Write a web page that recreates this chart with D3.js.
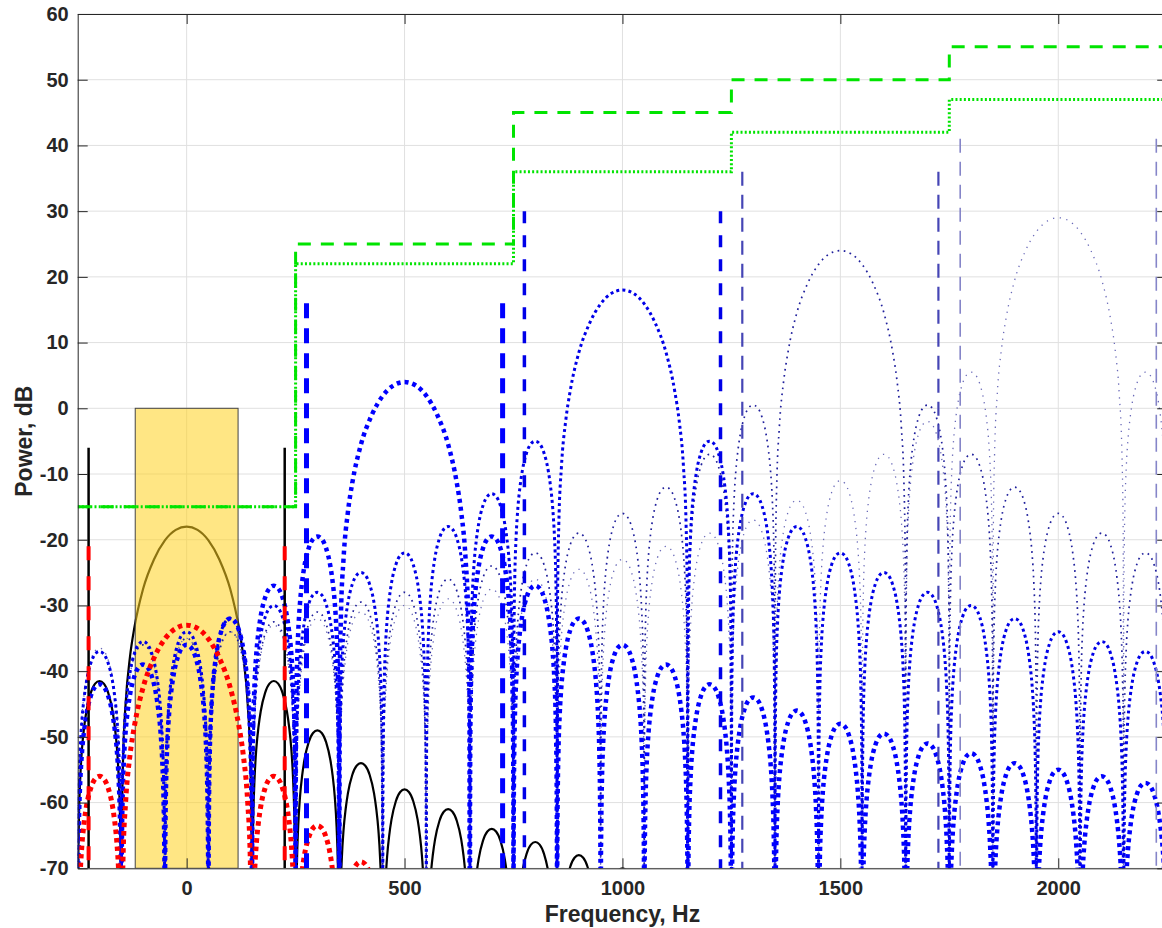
<!DOCTYPE html>
<html>
<head>
<meta charset="utf-8">
<script src="https://cdn.jsdelivr.net/npm/d3@7"></script>
<style>
  body { margin: 0; background: #fff; }
  svg { display: block; font-family: "Liberation Sans", Arial, sans-serif; }
</style>
</head>
<body>
<div id="chart"></div>
<script>
// tick labels
const xTicks = [0, 500, 1000, 1500, 2000];
const yTicks = [-70, -60, -50, -40, -30, -20, -10, 0, 10, 20, 30, 40, 50, 60];

// baseband spectra at 0 Hz: main lobe peak, then side lobe peaks at 200, 300, 400 ... Hz away
const blackPeak = -18;
const blackSide = [-41.5, -49, -54, -58, -61, -64, -66, -68, -70, -71.5];
const redPeak = -33;
const redSide = [-56, -63.5, -69, -73];

// shifted spectra (side lobes at 200, 300, 400 ... Hz from each centre)
const blueCenters = [500, 1000, 1500, 2000];
const bluePeaks = [4, 18, 24, 29];
const blueSide500 = [-19.5, -27, -32, -36, -39, -42, -44, -46, -48, -49.5, -51, -52.5, -54, -55, -56, -57];
const blueSide1000 = [-5, -13, -18, -22, -25, -28, -30, -32, -34, -35.5, -37, -38.5, -40];
const blueSide1500 = [0.5, -7, -12, -16, -19, -22, -24, -26, -28, -29.5, -31, -32.5, -34, -35, -36, -37];
const blueSide2000 = [5.5, -2, -7, -11, -14, -17, -19, -21, -23, -24.5, -26, -27.5, -29, -30, -31, -32, -33, -34, -35, -36, -36.5, -37.5];
const blueSides = [blueSide500, blueSide1000, blueSide1500, blueSide2000];

// vertical markers
const blackMarkers = [-225, 225];
const blackMarkerTop = -6;
const redMarkers = [-225, 225];
const redMarkerTop = -21;
const blueMarkers = [[275, 725], [775, 1225], [1275, 1725], [1775, 2225]];
const blueMarkerTops = [16, 30, 36, 41];

// masks (step limits)
const maskFreq = [-250, 250, 250, 750, 750, 1250, 1250, 1750, 1750, 2250];
const maskDashed = [-15, -15, 25, 25, 45, 45, 50, 50, 55, 55];
const maskDotted = [-15, -15, 22, 22, 36, 36, 42, 42, 47, 47];

// pass band
const band = [-118, 118];
const bandTop = 0;

// lobe shapes: [fraction across lobe, dB below lobe peak] and [Hz from centre, dB below peak]
const sideHalf = [[0, -200], [0.002, -44], [0.006, -34.5], [0.015, -26.5], [0.03, -20.5], [0.06, -14.6],
                  [0.1, -10.2], [0.15, -6.9], [0.2, -4.6], [0.3, -1.8], [0.4, -0.4], [0.5, 0]];
const mainHalf = [[-150, -200], [-149, -48], [-146, -35.6], [-140, -26.9], [-130, -19.8], [-120, -15.4],
                  [-100, -9.5], [-75, -5], [-50, -2.1], [-25, -0.5], [0, 0]];

const W = 1162, H = 928;
const margin = { left: 77.7, top: 14, right: 1167.2, bottom: 868.3 };

const x = d3.scaleLinear().domain([-250, 2250]).range([margin.left, margin.right]);
const y = d3.scaleLinear().domain([-70, 60]).range([margin.bottom, margin.top]);

const sideShape = sideHalf.concat(sideHalf.slice(0, -1).reverse().map(([u, d]) => [1 - u, d]));
const mainShape = mainHalf.concat(mainHalf.slice(0, -1).reverse().map(([f, d]) => [-f, d]));

function spectrum(center, peak, side) {
    const pts = [];
    for (let k = side.length - 1; k >= 0; k--) {
        const c = center - 200 - 100 * k;
        sideShape.forEach(([u, d]) => pts.push([c - 50 + 100 * u, side[k] + d]));
    }
    mainShape.forEach(([f, d]) => pts.push([center + f, peak + d]));
    side.forEach((s, k) => {
        const c = center + 200 + 100 * k;
        sideShape.forEach(([u, d]) => pts.push([c - 50 + 100 * u, s + d]));
    });
    return pts.filter((p, i) => i === 0 || p[0] > pts[i - 1][0] + 1e-9);
}

const line = d3.line().x(d => x(d[0])).y(d => y(d[1])).curve(d3.curveMonotoneX);

const svg = d3.select("#chart").append("svg").attr("width", W).attr("height", H);

svg.append("defs").append("clipPath").attr("id", "plot")
    .append("rect")
    .attr("x", margin.left).attr("y", margin.top)
    .attr("width", margin.right - margin.left).attr("height", margin.bottom - margin.top);

// grid
const grid = svg.append("g").attr("stroke", "#e0e0e0").attr("stroke-width", 1);
grid.selectAll(".gx").data(xTicks).enter().append("line")
    .attr("x1", d => x(d)).attr("x2", d => x(d)).attr("y1", margin.top).attr("y2", margin.bottom);
grid.selectAll(".gy").data(yTicks).enter().append("line")
    .attr("y1", d => y(d)).attr("y2", d => y(d)).attr("x1", margin.left).attr("x2", margin.right);

const plot = svg.append("g").attr("clip-path", "url(#plot)");

// baseband black spectrum (under the band patch)
plot.append("path")
    .attr("d", line(spectrum(0, blackPeak, blackSide)))
    .attr("fill", "none").attr("stroke", "#000").attr("stroke-width", 2.2);

// pass band
plot.append("rect")
    .attr("x", x(band[0])).attr("y", y(bandTop))
    .attr("width", x(band[1]) - x(band[0])).attr("height", y(-70) - y(bandTop))
    .attr("fill", "#ffd21f").attr("fill-opacity", 0.55)
    .attr("stroke", "#444").attr("stroke-width", 1);

// blue spectra
const blueStyles = [
    { w: 4.5, dash: "4,4", color: "#0000ff" },
    { w: 3, dash: "3,3.2", color: "#0000e8" },
    { w: 1.7, dash: "1.7,4.5", color: "#20209c" },
    { w: 1.3, dash: "1.3,5.5", color: "#6a6ab8" }
];
[3, 2, 1, 0].forEach(i => {
    plot.append("path")
        .attr("d", line(spectrum(blueCenters[i], bluePeaks[i], blueSides[i])))
        .attr("fill", "none")
        .attr("stroke", blueStyles[i].color)
        .attr("stroke-width", blueStyles[i].w)
        .attr("stroke-dasharray", blueStyles[i].dash);
});

// red baseband spectrum
plot.append("path")
    .attr("d", line(spectrum(0, redPeak, redSide)))
    .attr("fill", "none").attr("stroke", "#ff0000")
    .attr("stroke-width", 5).attr("stroke-dasharray", "4.5,4");

// black markers
plot.selectAll(".bm").data(blackMarkers).enter().append("line")
    .attr("x1", d => x(d)).attr("x2", d => x(d))
    .attr("y1", y(-70)).attr("y2", y(blackMarkerTop))
    .attr("stroke", "#000").attr("stroke-width", 2.5);

// red markers
plot.selectAll(".rm").data(redMarkers).enter().append("line")
    .attr("x1", d => x(d)).attr("x2", d => x(d))
    .attr("y1", y(redMarkerTop)).attr("y2", y(-70))
    .attr("stroke", "#ff0000").attr("stroke-width", 4)
    .attr("stroke-dasharray", "14,16");

// blue markers
const markerStyles = [
    { w: 5, dash: "15,10", color: "#0000ff" },
    { w: 3.5, dash: "12,12", color: "#0000e8" },
    { w: 2.2, dash: "14,9", color: "#4545b5" },
    { w: 1.6, dash: "14,9", color: "#8585c8" }
];
blueMarkers.forEach((pair, i) => {
    plot.selectAll(".m" + i).data(pair).enter().append("line")
        .attr("x1", d => x(d)).attr("x2", d => x(d))
        .attr("y1", y(blueMarkerTops[i])).attr("y2", y(-70))
        .attr("stroke", markerStyles[i].color)
        .attr("stroke-width", markerStyles[i].w)
        .attr("stroke-dasharray", markerStyles[i].dash);
});

// masks
const maskLine = d3.line().x((d, i) => x(maskFreq[i])).y(d => y(d));
plot.append("path").attr("d", maskLine(maskDashed))
    .attr("fill", "none").attr("stroke", "#00e400").attr("stroke-width", 3)
    .attr("stroke-dasharray", "13,10");
plot.append("path").attr("d", maskLine(maskDotted))
    .attr("fill", "none").attr("stroke", "#00e400").attr("stroke-width", 3)
    .attr("stroke-dasharray", "2,2.2");

// axes
const axisColor = "#262626";
const plain = d => String(d);
const styleAxis = g => {
    g.select(".domain").attr("stroke", axisColor).attr("stroke-width", 1);
    g.selectAll(".tick line").attr("stroke", axisColor);
    g.selectAll(".tick text").attr("fill", axisColor)
        .style("font-size", "20px").style("font-weight", "bold")
        .style("font-family", '"Liberation Sans", Arial, sans-serif');
};

svg.append("g").attr("transform", `translate(${margin.left},0)`)
    .call(d3.axisLeft(y).tickValues(yTicks).tickFormat(plain).tickSizeInner(-10).tickSizeOuter(0).tickPadding(9))
    .call(styleAxis);
svg.append("g").attr("transform", `translate(${margin.right},0)`)
    .call(d3.axisRight(y).tickValues(yTicks).tickSizeInner(-10).tickSizeOuter(0).tickFormat(""))
    .call(styleAxis);
svg.append("g").attr("transform", `translate(0,${margin.bottom})`)
    .call(d3.axisBottom(x).tickValues(xTicks).tickFormat(plain).tickSizeInner(-10).tickSizeOuter(0).tickPadding(13))
    .call(styleAxis);
svg.append("g").attr("transform", `translate(0,${margin.top})`)
    .call(d3.axisTop(x).tickValues(xTicks).tickSizeInner(-10).tickSizeOuter(0).tickFormat(""))
    .call(styleAxis);

// axis titles
svg.append("text")
    .attr("x", x(1000))
    .attr("y", 922)
    .attr("text-anchor", "middle")
    .attr("fill", axisColor)
    .style("font-size", "23px").style("font-weight", "bold")
    .text("Frequency, Hz");

svg.append("text")
    .attr("transform", `translate(32,${y(-5)}) rotate(-90)`)
    .attr("text-anchor", "middle")
    .attr("fill", axisColor)
    .style("font-size", "23px").style("font-weight", "bold")
    .text("Power, dB");
</script>
</body>
</html>
